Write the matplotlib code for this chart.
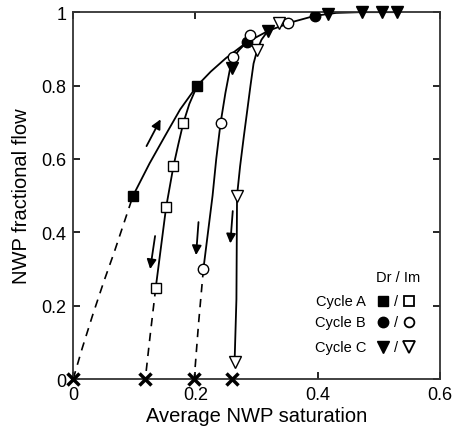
import matplotlib
matplotlib.use("Agg")
import matplotlib.pyplot as plt

plt.rcParams['font.family'] = ['Liberation Sans', 'DejaVu Sans']

# ---- data ----
# Cycle A
a_dr_x = [0.098, 0.203]
a_dr_y = [0.50, 0.80]
a_im_x = [0.180, 0.164, 0.152, 0.135]
a_im_y = [0.697, 0.580, 0.468, 0.248]
# Cycle B
b_dr_x = [0.284, 0.395]
b_dr_y = [0.918, 0.990]
b_im_x = [0.351, 0.290, 0.262, 0.241, 0.213]
b_im_y = [0.970, 0.937, 0.877, 0.697, 0.300]
# Cycle C
c_dr_x = [0.259, 0.318, 0.416, 0.472, 0.505, 0.530]
c_dr_y = [0.847, 0.948, 0.995, 1.000, 1.000, 1.000]
c_im_x = [0.336, 0.301, 0.268, 0.264]
c_im_y = [0.970, 0.897, 0.500, 0.047]
# residual saturations (x marks at zero flow)
res_x = [0.0, 0.118, 0.198, 0.259]
res_y = [0.0, 0.0, 0.0, 0.0]

# traced curves
main_x = [0.098, 0.125, 0.15, 0.175, 0.203, 0.225, 0.25, 0.284, 0.32, 0.36, 0.395, 0.43, 0.47, 0.53]
main_y = [0.50, 0.588, 0.662, 0.735, 0.80, 0.838, 0.875, 0.918, 0.95, 0.974, 0.99, 0.998, 1.0, 1.0]
a_curve_x = [0.203, 0.19, 0.180, 0.172, 0.164, 0.152, 0.135]
a_curve_y = [0.80, 0.75, 0.697, 0.64, 0.58, 0.468, 0.248]
b_curve_x = [0.284, 0.272, 0.262, 0.257, 0.249, 0.241, 0.234, 0.228, 0.213]
b_curve_y = [0.918, 0.898, 0.877, 0.85, 0.78, 0.697, 0.60, 0.50, 0.30]
c_curve_x = [0.318, 0.308, 0.301, 0.295, 0.290, 0.285, 0.279, 0.273, 0.268, 0.267, 0.264]
c_curve_y = [0.948, 0.925, 0.897, 0.86, 0.80, 0.736, 0.66, 0.58, 0.50, 0.218, 0.047]
dash0_x = [0.0, 0.015, 0.032, 0.05, 0.067, 0.083, 0.098]
dash0_y = [0.0, 0.085, 0.175, 0.265, 0.345, 0.425, 0.50]
dashA_x = [0.135, 0.126, 0.118]
dashA_y = [0.248, 0.12, 0.0]
dashB_x = [0.213, 0.205, 0.198]
dashB_y = [0.30, 0.15, 0.0]

# arrows (tail -> head)
arrows = [((0.120, 0.635), (0.143, 0.708)),
          ((0.134, 0.39), (0.126, 0.300)),
          ((0.205, 0.428), (0.201, 0.338)),
          ((0.261, 0.458), (0.257, 0.370))]

fig = plt.figure(figsize=(4.57, 4.39), dpi=100)
ax = fig.add_axes([0.16, 0.134, 0.803, 0.836])

lw = 1.3
ax.plot(main_x, main_y, 'k-', lw=lw)
ax.plot(a_curve_x, a_curve_y, 'k-', lw=lw)
ax.plot(b_curve_x, b_curve_y, 'k-', lw=lw)
ax.plot(c_curve_x, c_curve_y, 'k-', lw=lw)
for dx, dy in [(dash0_x, dash0_y), (dashA_x, dashA_y), (dashB_x, dashB_y)]:
    ax.plot(dx, dy, 'k--', lw=1.2, dashes=(5, 4))

ms_f = 7
ms_o = 7
ax.plot(a_dr_x, a_dr_y, 's', color='k', ms=ms_f, ls='none', zorder=5)
ax.plot(a_im_x, a_im_y, 's', mfc='white', mec='k', mew=1, ms=ms_o, ls='none', zorder=5)
ax.plot(b_dr_x, b_dr_y, 'o', color='k', ms=ms_f + 0.5, ls='none', zorder=5)
ax.plot(b_im_x, b_im_y, 'o', mfc='white', mec='k', mew=1, ms=ms_o + 0.5, ls='none', zorder=5)
ax.plot(c_dr_x, c_dr_y, 'v', color='k', ms=ms_f + 1, ls='none', zorder=5, clip_on=False)
ax.plot(c_im_x, c_im_y, 'v', mfc='white', mec='k', mew=1, ms=ms_o + 1, ls='none', zorder=5)
ax.plot(res_x, res_y, 'x', color='k', ms=8, mew=2.5, ls='none', zorder=6, clip_on=False)

for (x0, y0), (x1, y1) in arrows:
    ax.annotate('', xy=(x1, y1), xytext=(x0, y0),
                arrowprops=dict(arrowstyle='-|>', color='k', lw=1.3,
                                mutation_scale=14, shrinkA=0, shrinkB=0))

# legend-like annotation
fs_leg = 10.5
ax.text(0.531, 0.278, 'Dr / Im', ha='center', va='center', fontsize=fs_leg)
rows = [('Cycle A', 's', 0.213), ('Cycle B', 'o', 0.155), ('Cycle C', 'v', 0.087)]
for lab, mk, yy in rows:
    ax.text(0.479, yy, lab, ha='right', va='center', fontsize=fs_leg)
    ax.plot([0.507], [yy], mk, color='k', ms=7.5 if mk != 'v' else 8.5)
    ax.text(0.528, yy, '/', ha='center', va='center', fontsize=fs_leg)
    ax.plot([0.549], [yy], mk, mfc='white', mec='k', mew=1.3, ms=7 if mk != 'v' else 8)

ax.set_xlim(0, 0.6)
ax.set_ylim(0, 1)
ax.set_xticks([0, 0.2, 0.4, 0.6])
ax.set_xticklabels(['0', '0.2', '0.4', '0.6'])
ax.set_yticks([0, 0.2, 0.4, 0.6, 0.8, 1.0])
ax.set_yticklabels(['0', '0.2', '0.4', '0.6', '0.8', '1'])
ax.tick_params(direction='in', top=True, right=True, length=5, width=1.2,
               labelsize=13, pad=5)
for s in ax.spines.values():
    s.set_linewidth(1.3)
    s.set_color('#333333')
ax.set_xlabel('Average NWP saturation', fontsize=14.5, labelpad=2)
ax.set_ylabel('NWP fractional flow', fontsize=14.5, labelpad=7)

fig.savefig('out.png', dpi=100)
